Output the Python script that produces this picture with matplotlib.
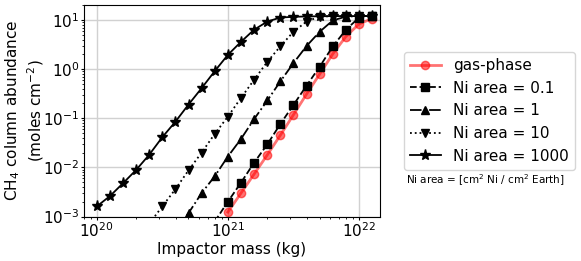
import numpy as np
import matplotlib
matplotlib.use("Agg")
import matplotlib.pyplot as plt

nan = np.nan
mass = [1.0e20, 1.26e20, 1.58e20, 2.0e20, 2.51e20, 3.16e20, 3.98e20, 5.01e20,
        6.31e20, 7.94e20, 1.0e21, 1.26e21, 1.58e21, 2.0e21, 2.51e21, 3.16e21,
        3.98e21, 5.01e21, 6.31e21, 7.94e21, 1.0e22, 1.26e22]

gas_phase = [nan, nan, nan, nan, nan, nan, nan, nan, nan, nan,
             1.23e-3, 3.0e-3, 7.2e-3, 1.8e-2, 4.5e-2, 0.117, 0.31, 0.79,
             2.04, 4.6, 8.3, 10.7]
ni_0p1 = [nan, nan, nan, nan, nan, nan, nan, nan, nan, 7.9e-4,
          2.0e-3, 4.9e-3, 1.23e-2, 2.95e-2, 7.6e-2, 0.186, 0.46, 1.12,
          2.9, 6.3, 11.2, 12.0]
ni_1 = [nan, nan, nan, nan, nan, nan, 5.0e-4, 1.17e-3, 3.0e-3, 6.6e-3,
        1.66e-2, 3.8e-2, 9.5e-2, 0.23, 0.56, 1.32, 2.95, 5.75,
        9.8, 11.7, 12.0, 12.0]
ni_10 = [nan, nan, nan, nan, 7.1e-4, 1.6e-3, 3.6e-3, 8.7e-3, 2.0e-2, 4.8e-2,
         0.108, 0.26, 0.60, 1.41, 2.9, 5.75, 9.3, 11.7,
         12.0, 12.0, 12.0, 12.0]
ni_1000 = [1.6e-3, 2.6e-3, 4.7e-3, 8.9e-3, 1.8e-2, 4.1e-2, 8.5e-2, 0.19, 0.41, 0.91,
           1.95, 3.6, 6.3, 9.3, 11.2, 11.6, 11.8, 11.9,
           12.0, 12.0, 12.0, 12.0]

labels = ["gas-phase", "Ni area = 0.1", "Ni area = 1", "Ni area = 10", "Ni area = 1000"]

fig = plt.figure(figsize=(5.81, 2.61), dpi=100)
ax = fig.add_axes([84/581, 1-216.5/261, 296/581, 211.5/261])

ax.plot(mass, gas_phase, '-o', color='red', alpha=0.55, lw=2, ms=6, label=labels[0])
ax.plot(mass, ni_0p1, '--s', color='k', lw=1.3, ms=6, label=labels[1])
ax.plot(mass, ni_1, '-.^', color='k', lw=1.3, ms=6, label=labels[2])
ax.plot(mass, ni_10, ':v', color='k', lw=1.3, ms=6, label=labels[3])
ax.plot(mass, ni_1000, '-*', color='k', lw=1.3, ms=8, label=labels[4])

ax.set_xscale('log')
ax.set_yscale('log')
ax.set_xlim(10**19.903, 10**22.16)
ax.set_ylim(1e-3, 10**1.305)
ax.grid(True, which='major', color='0.82', lw=1)
ax.set_axisbelow(True)
ax.set_xlabel("Impactor mass (kg)", fontsize=11, labelpad=2)
ax.set_ylabel("CH$_4$ column abundance\n(moles cm$^{-2}$)", fontsize=11,
              linespacing=1.2)
ax.yaxis.set_label_coords(-0.128, 0.5)
ax.tick_params(labelsize=11)
ax.tick_params(which='major', length=2, pad=1.2)
ax.tick_params(which='minor', length=1.2)

fig.legend(loc='upper left', bbox_to_anchor=(404/581, 1-52/261), fontsize=11,
           borderaxespad=0)
fig.text(406/581, 1-180/261, "Ni area = [cm$^2$ Ni / cm$^2$ Earth]", fontsize=7.5,
         va='center', ha='left')

fig.savefig("out.png", dpi=100)
